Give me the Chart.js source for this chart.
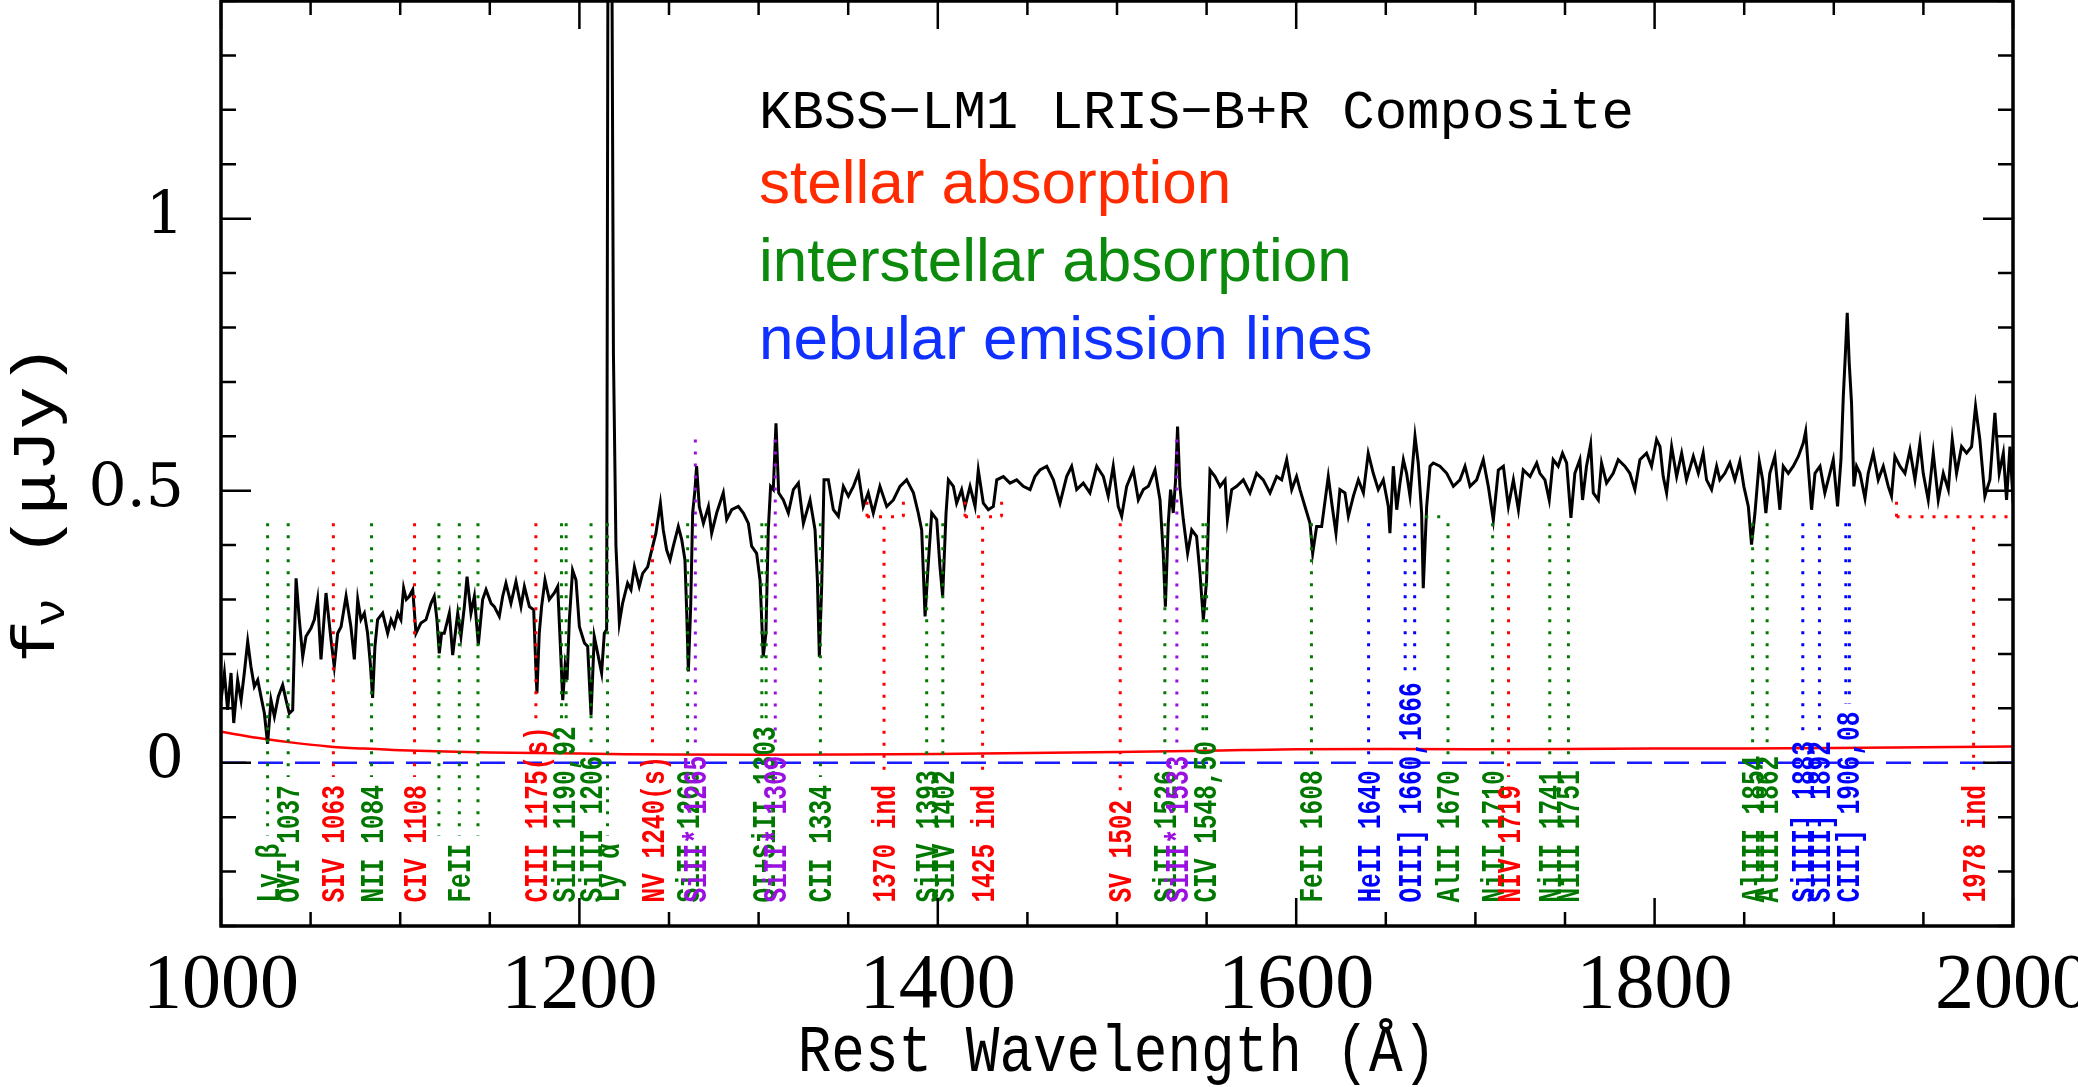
<!DOCTYPE html>
<html>
<head>
<meta charset="utf-8">
<script src="https://cdn.jsdelivr.net/npm/chart.js@4.4.1/dist/chart.umd.min.js"></script>
<style>
    html, body { margin: 0; padding: 0; background: #fff; }
    #wrap { width: 2078px; height: 1087px; position: relative; }
</style>
</head>
<body>
<div id="wrap"><canvas id="spec"></canvas></div>
<script>
// rest wavelength (A) and flux (uJy)
var wave = [
    1000.0, 1001.9, 1003.7, 1005.6, 1007.1, 1009.3, 1011.2, 1013.0, 1014.9, 1016.7,
    1018.6, 1020.5, 1022.3, 1024.2, 1026.0, 1027.9, 1029.8, 1032.0, 1034.4, 1036.3,
    1038.1, 1040.0, 1041.9, 1043.7, 1045.6, 1047.4, 1050.2, 1052.1, 1053.9, 1055.8,
    1058.6, 1061.4, 1063.2, 1065.1, 1067.0, 1069.8, 1072.5, 1074.4, 1076.3, 1078.1,
    1080.0, 1081.8, 1083.3, 1084.6, 1085.9, 1087.4, 1090.2, 1093.0, 1094.9, 1096.7,
    1098.6, 1100.4, 1101.9, 1103.4, 1105.1, 1107.0, 1108.8, 1111.6, 1114.4, 1117.2,
    1119.0, 1120.5, 1121.8, 1123.1, 1124.6, 1127.4, 1129.3, 1132.1, 1133.9, 1135.8,
    1137.3, 1139.5, 1141.4, 1143.6, 1146.0, 1147.9, 1150.7, 1152.5, 1155.3, 1157.2,
    1159.0, 1161.8, 1164.6, 1167.4, 1169.3, 1172.1, 1174.5, 1175.6, 1176.3, 1177.6,
    1178.9, 1180.8, 1183.2, 1186.0, 1187.9, 1189.4, 1190.7, 1192.0, 1193.1, 1194.4,
    1196.2, 1198.1, 1200.0, 1202.8, 1204.6, 1206.5, 1208.3, 1210.2, 1212.4, 1213.9,
    1215.2, 1216.0, 1218.0, 1219.0, 1220.4, 1222.3, 1224.1, 1226.9, 1228.8, 1230.7,
    1233.4, 1235.3, 1238.1, 1240.9, 1242.7, 1245.2, 1246.8, 1248.7, 1250.6, 1252.4,
    1255.2, 1257.1, 1258.9, 1259.9, 1260.8, 1262.1, 1263.2, 1264.5, 1265.4, 1266.9,
    1269.2, 1272.0, 1273.8, 1276.6, 1280.3, 1282.2, 1285.0, 1288.7, 1291.5, 1294.3,
    1296.1, 1298.9, 1300.8, 1302.6, 1304.1, 1305.4, 1306.7, 1308.2, 1309.7, 1311.2,
    1313.8, 1316.6, 1319.4, 1322.2, 1325.0, 1328.7, 1331.5, 1332.8, 1333.9, 1335.2,
    1336.5, 1338.9, 1341.7, 1344.5, 1347.3, 1350.1, 1352.9, 1355.7, 1358.4, 1361.2,
    1364.0, 1367.7, 1371.5, 1375.2, 1378.9, 1382.6, 1386.4, 1389.1, 1391.0, 1392.9,
    1394.7, 1396.6, 1399.4, 1401.2, 1402.7, 1404.6, 1405.9, 1408.7, 1410.5, 1413.3,
    1415.2, 1418.0, 1420.8, 1422.6, 1425.4, 1428.2, 1431.0, 1432.9, 1436.6, 1440.3,
    1444.0, 1447.7, 1451.5, 1454.2, 1457.0, 1460.8, 1464.5, 1468.2, 1471.9, 1474.7,
    1477.5, 1481.2, 1484.9, 1488.7, 1492.4, 1495.1, 1497.9, 1500.7, 1502.6, 1505.4,
    1509.1, 1511.9, 1514.7, 1517.5, 1521.2, 1524.0, 1525.8, 1527.0, 1528.6, 1529.9,
    1531.4, 1532.7, 1533.8, 1535.1, 1537.0, 1539.4, 1541.7, 1544.4, 1546.3, 1548.2,
    1550.0, 1551.9, 1554.7, 1557.5, 1560.3, 1561.6, 1564.0, 1566.8, 1570.5, 1574.2,
    1577.9, 1581.6, 1585.4, 1589.1, 1591.9, 1594.7, 1597.5, 1600.2, 1602.1, 1604.9,
    1607.7, 1609.2, 1611.4, 1614.2, 1617.9, 1620.1, 1622.2, 1624.4, 1627.2, 1629.1,
    1631.9, 1634.7, 1637.5, 1640.2, 1643.0, 1645.8, 1648.6, 1651.4, 1652.3, 1654.2,
    1656.1, 1657.9, 1659.8, 1661.6, 1663.5, 1666.3, 1668.1, 1670.0, 1670.9, 1672.8,
    1674.7, 1676.5, 1680.2, 1684.0, 1687.7, 1691.4, 1694.2, 1697.0, 1700.7, 1704.4,
    1707.2, 1710.0, 1712.8, 1715.6, 1718.4, 1721.2, 1724.0, 1726.7, 1730.5, 1734.2,
    1736.0, 1738.8, 1741.2, 1743.4, 1746.2, 1748.6, 1750.9, 1753.3, 1755.5, 1758.3,
    1759.8, 1762.0, 1764.3, 1765.8, 1768.6, 1770.4, 1773.2, 1776.9, 1779.7, 1783.4,
    1786.2, 1789.0, 1791.8, 1795.5, 1798.3, 1801.1, 1803.0, 1804.8, 1806.7, 1809.5,
    1812.3, 1815.1, 1817.8, 1821.6, 1824.4, 1827.1, 1829.0, 1831.8, 1834.6, 1836.4,
    1839.2, 1842.0, 1844.8, 1847.6, 1849.8, 1852.3, 1854.1, 1856.0, 1858.4, 1860.3,
    1862.1, 1864.3, 1867.1, 1869.9, 1871.8, 1874.6, 1877.4, 1880.2, 1883.0, 1884.3,
    1885.7, 1887.6, 1889.5, 1892.3, 1895.0, 1897.8, 1899.7, 1902.1, 1904.0, 1905.3,
    1906.4, 1907.5, 1908.6, 1909.9, 1911.2, 1912.7, 1914.6, 1917.4, 1919.2, 1922.0,
    1924.8, 1927.6, 1930.4, 1932.2, 1934.1, 1936.9, 1939.7, 1942.5, 1945.3, 1948.1,
    1949.9, 1952.7, 1955.5, 1958.3, 1961.1, 1963.9, 1966.1, 1968.5, 1971.3, 1974.1,
    1976.9, 1979.1, 1981.5, 1984.3, 1987.1, 1989.9, 1992.3, 1994.6, 1996.4, 1998.3,
    2000.1
];
var flux = [
    .115, .165, .097, .165, .073, .152, .115, .165, .223, .177,
    .140, .152, .122, .091, .035, .115, .085, .122, .143, .115,
    .091, .097, .339, .263, .195, .232, .247, .263, .300, .190,
    .312, .226, .177, .238, .250, .306, .250, .190, .300, .263,
    .275, .238, .183, .119, .214, .263, .275, .238, .263, .250,
    .275, .263, .321, .300, .306, .318, .238, .257, .263, .293,
    .306, .263, .201, .238, .238, .275, .198, .275, .232, .287,
    .342, .275, .306, .217, .300, .318, .293, .287, .269, .306,
    .330, .293, .333, .287, .324, .287, .281, .183, .128, .238,
    .287, .336, .300, .312, .324, .214, .115, .177, .152, .263,
    .354, .336, .250, .220, .214, .088, .232, .201, .165, .238,
    .245, 1.60, 1.60, .750, .398, .257, .293, .330, .318, .360,
    .324, .348, .360, .398, .422, .477, .428, .391, .373, .398,
    .434, .410, .373, .275, .168, .287, .459, .502, .545, .471,
    .440, .471, .422, .459, .496, .447, .465, .471, .459, .440,
    .398, .385, .336, .195, .238, .428, .508, .502, .624, .496,
    .483, .459, .502, .514, .440, .483, .428, .336, .195, .324,
    .520, .520, .465, .453, .508, .490, .508, .532, .471, .496,
    .459, .508, .471, .483, .508, .520, .496, .459, .428, .269,
    .367, .459, .447, .361, .306, .459, .520, .508, .477, .502,
    .471, .508, .471, .538, .477, .465, .471, .520, .526, .514,
    .520, .508, .502, .526, .538, .545, .520, .477, .526, .545,
    .502, .514, .496, .545, .526, .490, .545, .471, .453, .508,
    .538, .483, .502, .508, .538, .483, .385, .287, .440, .502,
    .459, .520, .618, .508, .447, .385, .428, .416, .348, .263,
    .336, .538, .526, .508, .520, .447, .502, .508, .520, .496,
    .532, .520, .496, .526, .520, .557, .502, .526, .502, .471,
    .440, .385, .434, .434, .526, .471, .422, .502, .496, .453,
    .490, .520, .496, .569, .532, .502, .520, .471, .422, .545,
    .465, .514, .557, .532, .490, .600, .551, .459, .321, .471,
    .545, .551, .545, .532, .508, .520, .545, .508, .520, .557,
    .508, .446, .538, .545, .471, .520, .465, .538, .526, .551,
    .532, .520, .483, .557, .545, .569, .551, .450, .532, .557,
    .483, .545, .585, .496, .483, .551, .514, .532, .557, .545,
    .532, .502, .557, .569, .545, .594, .581, .526, .496, .581,
    .526, .569, .520, .563, .532, .569, .520, .502, .545, .520,
    .532, .551, .520, .554, .508, .471, .401, .459, .554, .520,
    .459, .532, .563, .465, .545, .532, .545, .563, .588, .609,
    .545, .465, .532, .545, .496, .532, .557, .471, .557, .673,
    .747, .827, .735, .661, .508, .545, .532, .486, .532, .569,
    .520, .545, .508, .490, .563, .545, .532, .575, .520, .588,
    .532, .483, .569, .483, .532, .502, .594, .532, .581, .569,
    .581, .655, .594, .490, .520, .643, .532, .569, .483, .581,
    .477
];

// red model continuum under the spectrum
var contWave = [1000, 1020, 1040, 1060, 1080, 1100, 1150, 1200, 1250, 1350, 1450, 1550, 1600, 1700, 1800, 1900, 2000];
var contFlux = [0.057, 0.046, 0.037, 0.030, 0.026, 0.023, 0.019, 0.017, 0.015, 0.015, 0.018, 0.022, 0.025, 0.025, 0.026, 0.027, 0.030];

// tick labels
var xMajor = [1000, 1200, 1400, 1600, 1800, 2000];
var yMajor = [0, 0.5, 1];
var yMajorText = ['0', '0.5', '1'];

// line identifications
var lineNames = ['Ly \u03b2', 'OVI 1037', 'SIV 1063', 'NII 1084', 'CIV 1108', 'FeII', 'CIII 1175(s)',
    'SiII 1190,92', 'SiIII 1206', 'Ly \u03b1', 'NV 1240(s)', 'SiII 1260', 'SiII* 1265', 'OI+SiII 1303',
    'SiII* 1309', 'CII 1334', 'SiIV 1393', 'SiIV 1402', 'SV 1502', 'SiII 1526', 'SiII* 1533',
    'CIV 1548,50', 'FeII 1608', 'HeII 1640', 'OIII] 1660,1666', 'AlII 1670', 'NiII 1710', 'NIV 1719',
    'NiII 1741', 'NiII 1751', 'AlIII 1854', 'AlIII 1862', 'SiIII] 1883', 'SiIII] 1892', 'CIII] 1906,08'];
var lineWaves = [[1026], [1037.5], [1062.7], [1084], [1108], [1121.6, 1133, 1143.4], [1175.7],
    [1190.0, 1192.6], [1206.5], [1215.7], [1240.8], [1260.4], [1264.7], [1301.8, 1304.2],
    [1309.3], [1334.5], [1393.8], [1402.8], [1501.8], [1526.7], [1533.4],
    [1548.0, 1550.0], [1608.5], [1640.4], [1660.8, 1666.1], [1684.7], [1709.6], [1718.5],
    [1741.5], [1751.9], [1854.7], [1862.8], [1882.7], [1892.0], [1906.7, 1908.7]];
var lineKinds = ['ism', 'ism', 'star', 'ism', 'star', 'ism', 'star',
    'ism', 'ism', 'ism', 'star', 'ism', 'fs', 'ism',
    'fs', 'ism', 'ism', 'ism', 'star', 'ism', 'fs',
    'ism', 'ism', 'neb', 'neb', 'ism', 'ism', 'star',
    'ism', 'ism', 'ism', 'ism', 'neb', 'neb', 'neb'];

// stellar "ind" features with their bracket span
var indNames = ['1370 ind', '1425 ind', '1978 ind'];
var indWaves = [1370, 1425, 1978];
var indFrom = [1360.5, 1415.2, 1935];
var indTo = [1380.8, 1435.6, 2030];
var alSpan = [1672, 1684];

var kindColor = { star: '#ff0000', ism: '#007800', neb: '#0000ff', fs: '#9a10e0' };

var labelFont = 'bold 34px "Liberation Mono", "DejaVu Sans Mono", monospace';
var labelSx = 0.72;

function isIn(v, list) {
    for (var i = 0; i < list.length; i++) {
        if (Math.abs(v - list[i]) < 1e-6) return i;
    }
    return -1;
}

function dotted(ctx, x1, y1, x2, y2, color) {
    ctx.save();
    ctx.strokeStyle = color;
    ctx.lineWidth = 3;
    ctx.setLineDash([3, 9]);
    ctx.beginPath();
    ctx.moveTo(x1, y1);
    ctx.lineTo(x2, y2);
    ctx.stroke();
    ctx.restore();
}

function vlabel(ctx, text, x, base, color) {
    ctx.save();
    ctx.translate(x, base);
    ctx.rotate(-Math.PI / 2);
    ctx.scale(labelSx, 1);
    ctx.font = labelFont;
    ctx.fillStyle = color;
    ctx.textAlign = 'left';
    ctx.textBaseline = 'alphabetic';
    ctx.fillText(text, 0, 11);
    ctx.restore();
}

function noPad(s) {
    s.paddingTop = 0; s.paddingBottom = 0;
    s.paddingLeft = 0; s.paddingRight = 0;
}

var lineMarks = {
    id: 'lineMarks',
    afterDatasetsDraw: function (chart) {
        var ctx = chart.ctx, xs = chart.scales.x, ys = chart.scales.y;
        var base = ys.getPixelForValue(-0.257);
        ctx.save();
        ctx.font = labelFont;

        lineNames.forEach(function (name, i) {
            var col = kindColor[lineKinds[i]];
            var top = ys.getPixelForValue(lineKinds[i] === 'fs' ? 0.594 : 0.44);
            var len = ctx.measureText(name).width * labelSx;
            var end = base - len - 8;
            var ws = lineWaves[i];
            ws.forEach(function (w) {
                var px = xs.getPixelForValue(w);
                dotted(ctx, px, top, px, end, col);
            });
            var mid = (ws[0] + ws[ws.length - 1]) / 2;
            if (name === 'FeII') mid = ws[1];
            vlabel(ctx, name, xs.getPixelForValue(mid), base, col);
        });

        // AlII bracket
        var yb = ys.getPixelForValue(0.452);
        dotted(ctx, xs.getPixelForValue(alSpan[0]), yb, xs.getPixelForValue(alSpan[1]), yb, kindColor.ism);

        indNames.forEach(function (name, i) {
            var col = kindColor.star;
            var yTop = ys.getPixelForValue(0.452);
            var yEnd = ys.getPixelForValue(0.496);
            var x0 = xs.getPixelForValue(indFrom[i]);
            var x1 = Math.min(xs.getPixelForValue(indTo[i]), chart.chartArea.right);
            dotted(ctx, x0, yTop, x1, yTop, col);
            dotted(ctx, x0, yTop, x0, yEnd, col);
            if (indTo[i] < 2000) dotted(ctx, x1, yTop, x1, yEnd, col);
            var len = ctx.measureText(name).width * labelSx;
            var px = xs.getPixelForValue(indWaves[i]);
            dotted(ctx, px, yTop + 10, px, base - len - 8, col);
            vlabel(ctx, name, px, base, col);
        });
        ctx.restore();
    },
    afterDraw: function (chart) {
        var ctx = chart.ctx, a = chart.chartArea;
        var xs = chart.scales.x, ys = chart.scales.y;
        ctx.save();
        ctx.strokeStyle = '#000';
        ctx.lineWidth = 2.5;
        ctx.beginPath();
        xs.ticks.forEach(function (t) {
            var p = xs.getPixelForValue(t.value);
            var L = isIn(t.value, xMajor) >= 0 ? 28 : 14;
            ctx.moveTo(p, a.bottom); ctx.lineTo(p, a.bottom - L);
            ctx.moveTo(p, a.top); ctx.lineTo(p, a.top + L);
        });
        ys.ticks.forEach(function (t) {
            var p = ys.getPixelForValue(t.value);
            var L = isIn(t.value, yMajor) >= 0 ? 30 : 15;
            ctx.moveTo(a.left, p); ctx.lineTo(a.left + L, p);
            ctx.moveTo(a.right, p); ctx.lineTo(a.right - L, p);
        });
        ctx.stroke();
        ctx.lineWidth = 3.5;
        ctx.strokeRect(a.left, a.top, a.right - a.left, a.bottom - a.top);

        // header and colour key
        ctx.fillStyle = '#000';
        ctx.textAlign = 'left';
        ctx.textBaseline = 'alphabetic';
        ctx.font = '54px "Liberation Mono", monospace';
        ctx.fillText('KBSS\u2212LM1 LRIS\u2212B+R Composite', 759, 128);
        ctx.font = '62px "Liberation Sans", Arial, sans-serif';
        ctx.fillStyle = '#ff2a00';
        ctx.fillText('stellar absorption', 759, 203);
        ctx.fillStyle = '#0b8a0b';
        ctx.fillText('interstellar absorption', 759, 281);
        ctx.fillStyle = '#1030ff';
        ctx.fillText('nebular emission lines', 759, 359);

        // axis titles
        ctx.fillStyle = '#000';
        ctx.save();
        ctx.translate((a.left + a.right) / 2, 1071);
        ctx.scale(1, 1.2);
        ctx.textAlign = 'center';
        ctx.font = '56px "Liberation Mono", monospace';
        ctx.fillText('Rest Wavelength (\u00c5)', 0, 0);
        ctx.restore();

        ctx.save();
        ctx.translate(54, 663);
        ctx.rotate(-Math.PI / 2);
        ctx.scale(1.15, 1);
        ctx.font = '62px "Liberation Mono", monospace';
        ctx.fillText('f', 0, 0);
        var fw = ctx.measureText('f').width;
        ctx.font = '42px "Liberation Mono", monospace';
        ctx.fillText('\u03bd', fw - 6, 10);
        var nw = ctx.measureText('\u03bd').width;
        ctx.font = '62px "Liberation Mono", monospace';
        ctx.fillText(' (\u03bcJy)', fw + nw - 8, 0);
        ctx.restore();
        ctx.restore();
    }
};

var spectrum = wave.map(function (w, i) { return { x: w, y: flux[i] }; });
var continuum = contWave.map(function (w, i) { return { x: w, y: contFlux[i] }; });
var zeroLine = [{ x: 1000, y: 0 }, { x: 2000, y: 0 }];

var ctx = document.getElementById('spec').getContext('2d');
var chart = new Chart(ctx, {
    type: 'line',
    data: {
        datasets: [
            { data: spectrum, borderColor: '#000', borderWidth: 3, pointRadius: 0, tension: 0 },
            { data: continuum, borderColor: '#ff0000', borderWidth: 2.5, pointRadius: 0, tension: 0.3 },
            { data: zeroLine, borderColor: '#1a1aff', borderWidth: 2.5, borderDash: [25, 12], pointRadius: 0 }
        ]
    },
    options: {
        responsive: true,
        maintainAspectRatio: false,
        animation: false,
        layout: { padding: { top: 1, right: 65, left: 0, bottom: 0 } },
        plugins: { legend: { display: false }, tooltip: { enabled: false } },
        scales: {
            x: {
                type: 'linear', min: 1000, max: 2000,
                grid: { display: false }, border: { display: false },
                ticks: {
                    stepSize: 50, autoSkip: false, maxRotation: 0, padding: 6, color: '#000',
                    font: { family: '"Liberation Serif", serif', size: 78 },
                    callback: function (v) { return isIn(v, xMajor) >= 0 ? String(v) : ''; }
                },
                afterFit: function (s) { s.height = 161; noPad(s); }
            },
            y: {
                type: 'linear', min: -0.3, max: 1.4,
                grid: { display: false }, border: { display: false },
                ticks: {
                    stepSize: 0.1, autoSkip: false, padding: 29, color: '#000',
                    font: { family: '"DejaVu Serif", serif', size: 60 },
                    callback: function (v) { var k = isIn(v, yMajor); return k >= 0 ? yMajorText[k] : ''; }
                },
                afterFit: function (s) { s.width = 221; noPad(s); }
            }
        }
    },
    plugins: [lineMarks]
});
</script>
</body>
</html>
